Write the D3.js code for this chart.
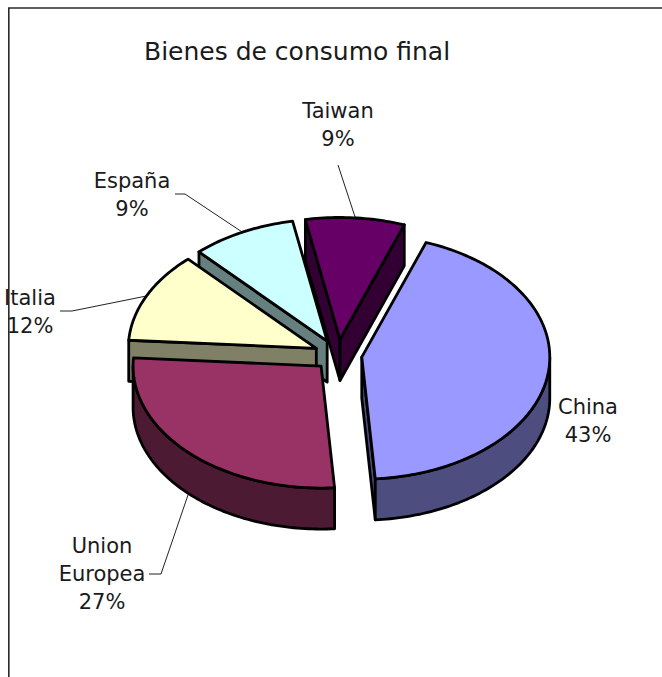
<!DOCTYPE html>
<html>
<head>
<meta charset="utf-8">
<script src="https://cdn.jsdelivr.net/npm/d3@7/dist/d3.min.js"></script>
<style>
html,body{margin:0;padding:0;background:#fff;overflow:hidden}
svg{display:block}
text{font-family:"DejaVu Sans",sans-serif;fill:#1a1a1a}
</style>
</head>
<body>
<svg id="c" width="662" height="677"></svg>
<script>
const categories = ["China", "Union Europea", "Italia", "España", "Taiwan"];
const values = [43.3, 27.2, 12.0, 9.0, 8.5];
const topColors = ["#9999FF", "#993366", "#FFFFCC", "#CCFFFF", "#660066"];
const sideColors = ["#4D4D80", "#4D1A33", "#808066", "#668080", "#330033"];
const labelLines = [["China","43%"],["Union","Europea","27%"],["Italia","12%"],["España","9%"],["Taiwan","9%"]];
const title = "Bienes de consumo final";

// layout
const W = 662, H = 677;
const cx = 338, cy = 355, rx = 188, ry = 122, depth = 41, explode = 24;
const startDeg = 20;
const labelPos = [[588,414],[102,553],[30,305],[132,188],[338,118]];
const leaderPaths = [null, [[149,574],[161,574]], [[60,311],[72,311]], [[175,194],[185,194]], [[338,165]]];
const drawOrder = [4,3,2,0,1];

const svg = d3.select("#c");
const sx = d3.scaleLinear().domain([-1,1]).range([-rx,rx]);
const sy = d3.scaleLinear().domain([-1,1]).range([-ry,ry]);

const start = startDeg*Math.PI/180;
const arcs = d3.pie().sort(null).value(d=>d).startAngle(start).endAngle(start+2*Math.PI)(values);

function offset(a){
  const m=(a.startAngle+a.endAngle)/2;
  return [cx+explode/rx*sx(Math.sin(m)), cy-explode/rx*sy(Math.cos(m))];
}
function rim(a,t,dz=0){
  const [ax,ay]=offset(a);
  return [ax+sx(Math.sin(t)), ay-sy(Math.cos(t))+dz];
}
function sweep(a,t0,t1,dz=0){
  const n=Math.max(2,Math.ceil(Math.abs(t1-t0)/0.02));
  return d3.range(n+1).map(i=>rim(a,t0+(t1-t0)*i/n,dz));
}
const line=d3.line().curve(d3.curveLinear);
function draw(pts,fill){
  svg.append("path").attr("d",line(pts)+"Z").attr("fill",fill)
    .attr("stroke","#000").attr("stroke-width",2.8).attr("stroke-linejoin","round");
}

// frame: left and top edges only
svg.append("path").attr("d",`M8.8,${H}V8H${W}`).attr("fill","none").attr("stroke","#2a2a2a").attr("stroke-width",1.6);

// title
svg.append("text").attr("x",144).attr("y",60).attr("font-size",25).text(title);

// leaders
arcs.forEach((a,i)=>{
  if(!leaderPaths[i])return;
  const m=(a.startAngle+a.endAngle)/2;
  const end=rim(a,m,Math.cos(m)<0?depth:0);
  svg.append("path").attr("d",line([...leaderPaths[i],end])).attr("fill","none").attr("stroke","#222").attr("stroke-width",1);
});

// slices
drawOrder.forEach(i=>{
  const a=arcs[i];
  const s=a.startAngle,e=a.endAngle;
  const apex=offset(a), apexD=[apex[0],apex[1]+depth];
  const side=sideColors[i];
  // radial walls that face the viewer
  if(Math.sin(s)<0) draw([apex,rim(a,s),rim(a,s,depth),apexD],side);
  if(Math.sin(e)>0) draw([apex,rim(a,e),rim(a,e,depth),apexD],side);
  // outer wall: lower half of the ellipse only
  const t0=Math.max(s,Math.PI/2), t1=Math.min(e,3*Math.PI/2);
  if(t1>t0) draw([...sweep(a,t0,t1),...sweep(a,t1,t0,depth)],side);
  // top
  draw([apex,...sweep(a,s,e)],topColors[i]);
});

// labels
labelLines.forEach((ls,i)=>{
  const [x,y]=labelPos[i];
  const t=svg.append("text").attr("text-anchor","middle").attr("font-size",21);
  ls.forEach((l,j)=>t.append("tspan").attr("x",x).attr("y",y+j*28).text(l));
});
</script>
</body>
</html>
